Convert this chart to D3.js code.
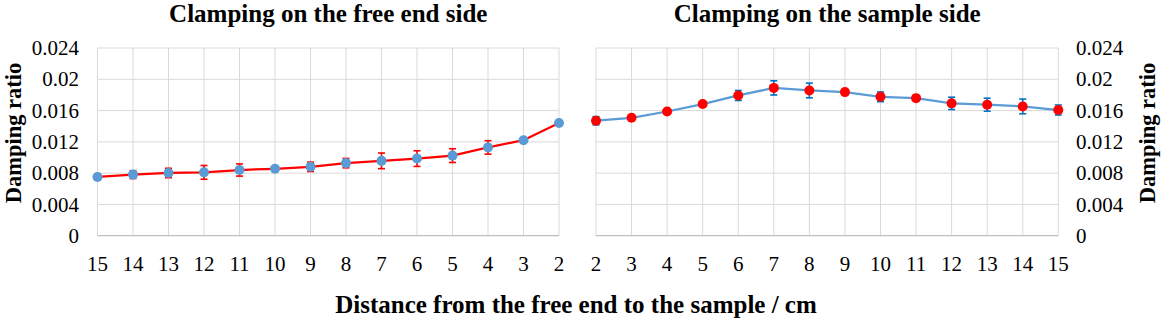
<!DOCTYPE html>
<html>
<head>
<meta charset="utf-8">
<script src="https://cdn.jsdelivr.net/npm/d3@7"></script>
<style>
  html, body { margin: 0; padding: 0; background: #fff; }
  svg { display: block; }
  text { font-family: "Liberation Serif", "Times New Roman", serif; fill: #000; }
</style>
</head>
<body>
<svg id="chart" width="1162" height="328" font-family="Liberation Serif, Times New Roman, serif"></svg>
<script>
// ---- Data ----
const leftCategories = [15, 14, 13, 12, 11, 10, 9, 8, 7, 6, 5, 4, 3, 2];
const leftValues = [0.00751, 0.00781, 0.00802, 0.0081, 0.0084, 0.00856, 0.00881, 0.00928, 0.00957, 0.00986, 0.01024, 0.01129, 0.01221, 0.0144];
const leftErrors = [0.0004, 0.0005, 0.0006, 0.00088, 0.00078, 0.0002, 0.0006, 0.0006, 0.001, 0.001, 0.00088, 0.00086, 0.0001, 0.0001];

const rightCategories = [2, 3, 4, 5, 6, 7, 8, 9, 10, 11, 12, 13, 14, 15];
const rightValues = [0.0147, 0.01508, 0.01588, 0.01683, 0.01793, 0.0189, 0.01857, 0.01836, 0.01776, 0.01759, 0.01692, 0.01675, 0.01653, 0.01607];
const rightErrors = [0.00053, 0.0002, 0.0002, 0.0002, 0.00064, 0.00091, 0.00094, 0.0002, 0.00062, 0.0002, 0.00079, 0.00083, 0.00094, 0.00064];

const yTicks = [0, 0.004, 0.008, 0.012, 0.016, 0.02, 0.024];
const yTickLabels = ["0", "0.004", "0.008", "0.012", "0.016", "0.02", "0.024"];

const leftTitle = "Clamping on the free end side";
const rightTitle = "Clamping on the sample side";
const yLabel = "Damping ratio";
const xLabel = "Distance from the free end to the sample / cm";

// ---- Layout ----
const svg = d3.select("#chart");
const plotTop = 48, plotBottom = 235.7;
const y = d3.scaleLinear().domain([0, 0.024]).range([plotBottom, plotTop]);

const panels = [
  { cats: leftCategories, vals: leftValues, errs: leftErrors, x0: 97.5, x1: 559,
    line: "#ff0000", marker: "#5b9bd5", err: "#ff0000", title: leftTitle, side: "left" },
  { cats: rightCategories, vals: rightValues, errs: rightErrors, x0: 596, x1: 1058.3,
    line: "#5b9bd5", marker: "#ff0000", err: "#0070c0", title: rightTitle, side: "right" }
];

panels.forEach(p => {
  const x = d3.scalePoint().domain(p.cats).range([p.x0, p.x1]);
  const g = svg.append("g");

  g.selectAll("line.hgrid").data(yTicks.slice(1)).join("line")
    .attr("class", "hgrid")
    .attr("x1", p.x0).attr("x2", p.x1)
    .attr("y1", d => y(d)).attr("y2", d => y(d))
    .attr("stroke", "#d9d9d9").attr("stroke-width", 1);
  g.selectAll("line.vgrid").data(p.cats).join("line")
    .attr("class", "vgrid")
    .attr("x1", d => x(d)).attr("x2", d => x(d))
    .attr("y1", plotTop).attr("y2", plotBottom)
    .attr("stroke", "#d9d9d9").attr("stroke-width", 1);
  g.append("line").attr("x1", p.x0).attr("x2", p.x1)
    .attr("y1", y(0)).attr("y2", y(0))
    .attr("stroke", "#bfbfbf").attr("stroke-width", 1.2);

  g.selectAll("text.xt").data(p.cats).join("text")
    .attr("class", "xt")
    .attr("x", d => x(d)).attr("y", 270.7)
    .attr("text-anchor", "middle").attr("font-size", 21)
    .text(d => d);

  const tx = p.side === "left" ? 79 : 1076;
  g.selectAll("text.yt").data(yTicks).join("text")
    .attr("class", "yt")
    .attr("x", tx).attr("y", d => y(d))
    .attr("dy", "0.34em")
    .attr("text-anchor", p.side === "left" ? "end" : "start")
    .attr("font-size", 21)
    .text((d, i) => yTickLabels[i]);

  g.append("text")
    .attr("x", (p.x0 + p.x1) / 2).attr("y", 21.5)
    .attr("text-anchor", "middle").attr("font-size", 25).attr("font-weight", "bold")
    .text(p.title);

  const lx = p.side === "left" ? 21 : 1155;
  g.append("text")
    .attr("transform", `translate(${lx},${133}) rotate(-90)`)
    .attr("text-anchor", "middle").attr("font-size", 22.5).attr("font-weight", "bold")
    .text(yLabel);

  const data = p.cats.map((c, i) => ({ c, v: p.vals[i], e: p.errs[i] }));

  g.append("path").datum(data)
    .attr("fill", "none").attr("stroke", p.line).attr("stroke-width", 2.25)
    .attr("d", d3.line().x(d => x(d.c)).y(d => y(d.v)));

  const eb = g.selectAll("g.eb").data(data).join("g").attr("class", "eb");
  eb.append("line")
    .attr("x1", d => x(d.c)).attr("x2", d => x(d.c))
    .attr("y1", d => y(d.v - d.e)).attr("y2", d => y(d.v + d.e))
    .attr("stroke", p.err).attr("stroke-width", 1.6);
  eb.append("line")
    .attr("x1", d => x(d.c) - 3.5).attr("x2", d => x(d.c) + 3.5)
    .attr("y1", d => y(d.v + d.e)).attr("y2", d => y(d.v + d.e))
    .attr("stroke", p.err).attr("stroke-width", 1.6);
  eb.append("line")
    .attr("x1", d => x(d.c) - 3.5).attr("x2", d => x(d.c) + 3.5)
    .attr("y1", d => y(d.v - d.e)).attr("y2", d => y(d.v - d.e))
    .attr("stroke", p.err).attr("stroke-width", 1.6);

  g.selectAll("circle.m").data(data).join("circle")
    .attr("class", "m")
    .attr("cx", d => x(d.c)).attr("cy", d => y(d.v)).attr("r", 5)
    .attr("fill", p.marker);
});

svg.append("text")
  .attr("x", 576).attr("y", 313)
  .attr("text-anchor", "middle").attr("font-size", 25).attr("font-weight", "bold")
  .text(xLabel);
</script>
</body>
</html>
